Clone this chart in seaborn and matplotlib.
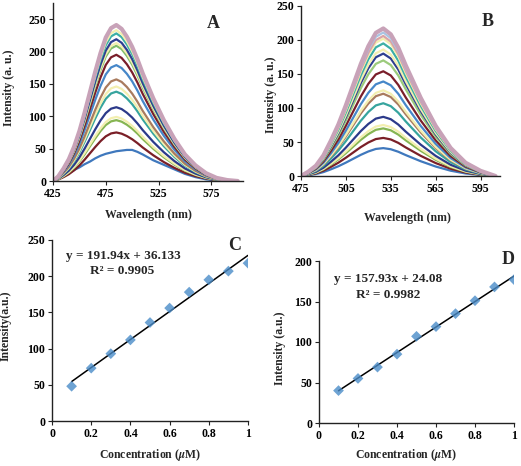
import numpy as np
import pandas as pd
import matplotlib
matplotlib.use("Agg")
import matplotlib.pyplot as plt
import seaborn as sns

sns.set_style("white")
plt.rcParams['font.family'] = ['Liberation Serif', 'DejaVu Serif']
plt.rcParams['font.weight'] = 'bold'
plt.rcParams['mathtext.fontset'] = 'stix'

# ---------------- data ----------------
# panel A: emission spectra (normalised shape of the curves + peak heights)
wl_A = [425, 430, 435, 440, 445, 450, 455, 460, 465, 470, 475, 480, 485, 490, 495, 500,
        505, 510, 520, 530, 540, 550, 560, 570, 580, 590, 600]
shape_A = [0, 0.03, 0.08, 0.14, 0.22, 0.32, 0.44, 0.57, 0.70, 0.82, 0.92, 0.98, 1.0, 0.975,
           0.925, 0.86, 0.78, 0.69, 0.53, 0.39, 0.27, 0.17, 0.10, 0.05, 0.02, 0.006, 0]
low_A = [0, 4, 8, 12, 17, 21, 26, 30, 35, 39, 42, 44, 46, 47, 48, 48, 45, 41, 32, 25, 18,
         11, 6, 2.5, 0.8, 0, 0]
peaks_A = [75, 94, 99, 114, 138, 146, 157, 179, 195, 209, 213, 219, 228, 233, 241]

# panel B
wl_B = [475, 480, 485, 490, 495, 500, 505, 510, 515, 520, 525, 530, 535, 540, 545, 550,
        555, 565, 575, 585, 595, 605]
shape_B = [0, 0.03, 0.07, 0.14, 0.24, 0.35, 0.48, 0.62, 0.76, 0.88, 0.97, 1.0, 0.96, 0.87,
           0.75, 0.64, 0.53, 0.34, 0.19, 0.09, 0.035, 0]
peaks_B = [41, 56, 70, 75, 87, 107, 121, 126, 139, 154, 170, 180, 186, 195, 202, 206, 211, 217]

# panels C and D: calibration points
conc = [0.1, 0.2, 0.3, 0.4, 0.5, 0.6, 0.7, 0.8, 0.9, 1.0]
int_C = [48, 73, 93, 112, 136, 156, 178, 195, 207, 218]
int_D = [40, 55, 69, 85, 107, 119, 135, 151, 168, 177]

eq_C = ["y = 191.94x + 36.133", "R² = 0.9905"]
eq_D = ["y = 157.93x + 24.08", "R² = 0.9982"]

colors_A = ['#3F78BD', '#7A1F27', '#86B552', '#F3EFB0', '#2C3A8A', '#36A49E', '#F3EFB0',
            '#A97B5E', '#4687C9', '#7A1E2A', '#82BE6A', '#F3EFB0', '#2E3F90', '#3CAFA6',
            '#F3EFB0', '#C8A2B8']
colors_B = ['#3F78BD', '#7A1F27', '#86B552', '#F3EFB0', '#2C3A8A', '#36A49E', '#A97B5E',
            '#F3EFB0', '#4687C9', '#7A1E2A', '#9CCB7C', '#2E3F90', '#F3EFB0', '#3CAFA6',
            '#F3EFB0', '#D9A3A6', '#A9C4E3', '#C8A2B8']

W, H = 521, 466
fig = plt.figure(figsize=(W / 100, H / 100), dpi=100)


def box(l, t, r, b):
    return [l / W, 1 - b / H, (r - l) / W, (b - t) / H]


def fp(x, y):
    return (x / W, 1 - y / H)


def style(ax):
    for s in ['top', 'right']:
        ax.spines[s].set_visible(False)
    for s in ['left', 'bottom']:
        ax.spines[s].set_color('#222222')
        ax.spines[s].set_linewidth(1.0)
    ax.tick_params(direction='out', length=3, width=0.8, labelsize=8.5, pad=2,
                   bottom=True, left=True, colors='#222222')
    for lab in ax.get_xticklabels() + ax.get_yticklabels():
        lab.set_fontweight('bold')
        lab.set_color('black')


def labels(ax, xl, xpos, yl, ypos):
    ax.set_xlabel(xl, fontsize=8.5, fontweight='bold', va='center', ha='center')
    ax.set_ylabel(yl, fontsize=8.5, fontweight='bold', va='center', ha='center')
    ax.xaxis.set_label_coords(*fp(*xpos), transform=fig.transFigure)
    ax.yaxis.set_label_coords(*fp(*ypos), transform=fig.transFigure)


# ---------------- A ----------------
axA = fig.add_axes(box(53, 3, 243, 181))
curves_A = [low_A] + [[p * s for s in shape_A] for p in peaks_A]
for i, (vals, c) in enumerate(zip(curves_A, colors_A)):
    lw = 3.0 if i == len(curves_A) - 1 else 1.6
    sns.lineplot(x=wl_A, y=vals, color=c, lw=lw, ax=axA)
axA.set_xlim(425, 605)
axA.set_ylim(0, 275)
axA.set_xticks([425, 475, 525, 575])
axA.set_yticks([0, 50, 100, 150, 200, 250])
style(axA)
labels(axA, 'Wavelength (nm)', (148, 215), 'Intensity (a. u.)', (9, 88))
fig.text(*fp(213, 23), 'A', fontsize=13, fontweight='bold', ha='center', va='center')

# ---------------- B ----------------
axB = fig.add_axes(box(301, 6, 500, 176))
for i, (p, c) in enumerate(zip(peaks_B, colors_B)):
    lw = 3.0 if i == len(peaks_B) - 1 else 1.6
    sns.lineplot(x=wl_B, y=[p * s for s in shape_B], color=c, lw=lw, ax=axB)
axB.set_xlim(475, 608)
axB.set_ylim(0, 250)
axB.set_xticks([475, 505, 535, 565, 595])
axB.set_yticks([0, 50, 100, 150, 200, 250])
style(axB)
labels(axB, 'Wavelength (nm)', (407, 218), 'Intensity (a. u.)', (271, 95))
fig.text(*fp(488, 22), 'B', fontsize=13, fontweight='bold', ha='center', va='center')

# ---------------- C ----------------
axC = fig.add_axes(box(52, 240, 248, 421))
sns.regplot(x=conc, y=int_C, ci=None, marker='D', ax=axC,
            scatter_kws=dict(s=30, color='#4A8CC8', edgecolor='none', zorder=3),
            line_kws=dict(color='black', lw=1.1, zorder=2))
axC.set_xlim(0, 1)
axC.set_ylim(0, 250)
axC.set_xticks([0, 0.2, 0.4, 0.6, 0.8, 1.0])
axC.set_xticklabels(['0', '0.2', '0.4', '0.6', '0.8', '1'])
axC.set_yticks([0, 50, 100, 150, 200, 250])
style(axC)
labels(axC, r'Concentration ($\mu$M)', (150, 455), 'Intensity(a.u.)', (6, 326))
fig.text(*fp(235, 246), 'C', fontsize=13, fontweight='bold', ha='center', va='center')
fig.text(*fp(123, 256), eq_C[0], fontsize=9.5, fontweight='bold', ha='center', va='center')
fig.text(*fp(122, 271), eq_C[1], fontsize=9.5, fontweight='bold', ha='center', va='center')

# ---------------- D ----------------
axD = fig.add_axes(box(319, 261, 514, 423))
sns.regplot(x=conc, y=int_D, ci=None, marker='D', ax=axD,
            scatter_kws=dict(s=30, color='#4A8CC8', edgecolor='none', zorder=3),
            line_kws=dict(color='black', lw=1.1, zorder=2))
axD.set_xlim(0, 1)
axD.set_ylim(0, 200)
axD.set_xticks([0, 0.2, 0.4, 0.6, 0.8, 1.0])
axD.set_xticklabels(['0', '0.2', '0.4', '0.6', '0.8', '1'])
axD.set_yticks([0, 50, 100, 150, 200])
style(axD)
labels(axD, r'Concentration ($\mu$M)', (406, 455), 'Intensity (a.u.)', (280, 348))
fig.text(*fp(508, 260), 'D', fontsize=13, fontweight='bold', ha='center', va='center')
fig.text(*fp(388, 279), eq_D[0], fontsize=9.5, fontweight='bold', ha='center', va='center')
fig.text(*fp(388, 295), eq_D[1], fontsize=9.5, fontweight='bold', ha='center', va='center')

fig.savefig('out.png', dpi=100)
